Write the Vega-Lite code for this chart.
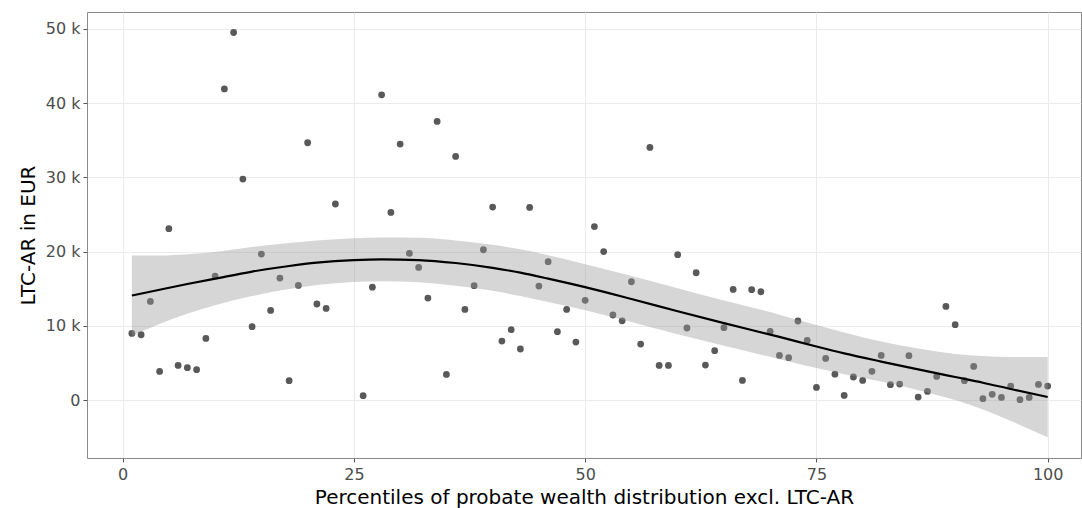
{
  "$schema": "https://vega.github.io/schema/vega-lite/v6.json",
  "autosize": "none",
  "width": 994,
  "height": 446,
  "padding": {"left": 87, "top": 12, "right": 1, "bottom": 50},
  "background": "white",
  "config": {
    "font": "DejaVu Sans",
    "view": {"stroke": "#8a8a8a", "strokeWidth": 1},
    "axis": {
      "domain": false,
      "grid": true,
      "gridColor": "#ebebeb",
      "gridWidth": 1,
      "tickColor": "#555555",
      "tickSize": 4,
      "labelColor": "#4d4d4d",
      "labelFontSize": 16,
      "titleFontSize": 20,
      "titleFontWeight": "normal",
      "titleColor": "#000000",
      "labelFont": "DejaVu Sans",
      "titleFont": "DejaVu Sans"
    }
  },
  "datasets": {
    "pts": [
      {"p": 1, "v": 8970}, {"p": 2, "v": 8790}, {"p": 3, "v": 13280}, {"p": 4, "v": 3850}, {"p": 5, "v": 23070},
      {"p": 6, "v": 4660}, {"p": 7, "v": 4350}, {"p": 8, "v": 4080}, {"p": 9, "v": 8300}, {"p": 10, "v": 16700},
      {"p": 11, "v": 41900}, {"p": 12, "v": 49500}, {"p": 13, "v": 29760}, {"p": 14, "v": 9870}, {"p": 15, "v": 19660},
      {"p": 16, "v": 12070}, {"p": 17, "v": 16430}, {"p": 18, "v": 2600}, {"p": 19, "v": 15440}, {"p": 20, "v": 34650},
      {"p": 21, "v": 12930}, {"p": 22, "v": 12340}, {"p": 23, "v": 26400}, {"p": 26, "v": 580}, {"p": 27, "v": 15200},
      {"p": 28, "v": 41100}, {"p": 29, "v": 25270}, {"p": 30, "v": 34470}, {"p": 31, "v": 19750}, {"p": 32, "v": 17860},
      {"p": 33, "v": 13730}, {"p": 34, "v": 37520}, {"p": 35, "v": 3450}, {"p": 36, "v": 32810}, {"p": 37, "v": 12200},
      {"p": 38, "v": 15400}, {"p": 39, "v": 20240}, {"p": 40, "v": 25990}, {"p": 41, "v": 7940}, {"p": 42, "v": 9470},
      {"p": 43, "v": 6870}, {"p": 44, "v": 25940}, {"p": 45, "v": 15350}, {"p": 46, "v": 18630}, {"p": 47, "v": 9200},
      {"p": 48, "v": 12200}, {"p": 49, "v": 7810}, {"p": 50, "v": 13420}, {"p": 51, "v": 23360}, {"p": 52, "v": 20000},
      {"p": 53, "v": 11450}, {"p": 54, "v": 10660}, {"p": 55, "v": 15930}, {"p": 56, "v": 7540}, {"p": 57, "v": 34020},
      {"p": 58, "v": 4660}, {"p": 59, "v": 4660}, {"p": 60, "v": 19570}, {"p": 61, "v": 9700}, {"p": 62, "v": 17140},
      {"p": 63, "v": 4710}, {"p": 64, "v": 6640}, {"p": 65, "v": 9740}, {"p": 66, "v": 14900}, {"p": 67, "v": 2640},
      {"p": 68, "v": 14860}, {"p": 69, "v": 14580}, {"p": 70, "v": 9240}, {"p": 71, "v": 6010}, {"p": 72, "v": 5700},
      {"p": 73, "v": 10640}, {"p": 74, "v": 8030}, {"p": 75, "v": 1700}, {"p": 76, "v": 5600}, {"p": 77, "v": 3480},
      {"p": 78, "v": 620}, {"p": 79, "v": 3100}, {"p": 80, "v": 2640}, {"p": 81, "v": 3860}, {"p": 82, "v": 6010},
      {"p": 83, "v": 2060}, {"p": 84, "v": 2150}, {"p": 85, "v": 5970}, {"p": 86, "v": 400}, {"p": 87, "v": 1160},
      {"p": 88, "v": 3180}, {"p": 89, "v": 12600}, {"p": 90, "v": 10140}, {"p": 91, "v": 2600}, {"p": 92, "v": 4530},
      {"p": 93, "v": 180}, {"p": 94, "v": 760}, {"p": 95, "v": 350}, {"p": 96, "v": 1880}, {"p": 97, "v": 50},
      {"p": 98, "v": 350}, {"p": 99, "v": 2100}, {"p": 100, "v": 1880}
    ],
    "fit": [
      {"p": 1, "fit": 14070, "lo": 8670, "hi": 19470},
      {"p": 4, "fit": 14850, "lo": 10250, "hi": 19450},
      {"p": 7, "fit": 15620, "lo": 11620, "hi": 19620},
      {"p": 10, "fit": 16350, "lo": 12750, "hi": 19950},
      {"p": 14, "fit": 17300, "lo": 14000, "hi": 20600},
      {"p": 18, "fit": 18050, "lo": 14950, "hi": 21150},
      {"p": 21, "fit": 18500, "lo": 15500, "hi": 21500},
      {"p": 25, "fit": 18850, "lo": 15900, "hi": 21800},
      {"p": 28, "fit": 18950, "lo": 16000, "hi": 21900},
      {"p": 32, "fit": 18850, "lo": 15850, "hi": 21850},
      {"p": 36, "fit": 18450, "lo": 15400, "hi": 21500},
      {"p": 40, "fit": 17800, "lo": 14700, "hi": 20900},
      {"p": 43, "fit": 17150, "lo": 14000, "hi": 20300},
      {"p": 46, "fit": 16350, "lo": 13200, "hi": 19500},
      {"p": 50, "fit": 15200, "lo": 12100, "hi": 18300},
      {"p": 55, "fit": 13600, "lo": 10500, "hi": 16700},
      {"p": 60, "fit": 11950, "lo": 8850, "hi": 15050},
      {"p": 65, "fit": 10350, "lo": 7300, "hi": 13400},
      {"p": 71, "fit": 8500, "lo": 5500, "hi": 11500},
      {"p": 75, "fit": 7200, "lo": 4300, "hi": 10100},
      {"p": 78, "fit": 6280, "lo": 3480, "hi": 9080},
      {"p": 82, "fit": 5180, "lo": 2480, "hi": 7880},
      {"p": 86, "fit": 4130, "lo": 1330, "hi": 6930},
      {"p": 90, "fit": 3100, "lo": 0, "hi": 6200},
      {"p": 93, "fit": 2330, "lo": -1270, "hi": 5930},
      {"p": 96, "fit": 1480, "lo": -2820, "hi": 5780},
      {"p": 100, "fit": 400, "lo": -5000, "hi": 5800}
    ]
  },
  "layer": [
    {
      "data": {"name": "pts"},
      "mark": {"type": "circle", "size": 46, "color": "#595959", "opacity": 1},
      "encoding": {
        "x": {
          "field": "p", "type": "quantitative",
          "scale": {"domain": [-3.85, 103.6], "nice": false, "zero": false},
          "axis": {
            "values": [0, 25, 50, 75, 100],
            "title": "Percentiles of probate wealth distribution excl. LTC-AR",
            "labelPadding": 4,
            "titlePadding": 5
          }
        },
        "y": {
          "field": "v", "type": "quantitative",
          "scale": {"domain": [-7810, 52260], "nice": false, "zero": false},
          "axis": {
            "values": [0, 10000, 20000, 30000, 40000, 50000],
            "labelExpr": "datum.value == 0 ? '0' : (datum.value / 1000) + ' k'",
            "title": "LTC-AR in EUR",
            "labelPadding": 3,
            "titlePadding": 7
          }
        }
      }
    },
    {
      "data": {"name": "fit"},
      "mark": {"type": "area", "color": "#999999", "opacity": 0.4, "interpolate": "monotone"},
      "encoding": {
        "x": {"field": "p", "type": "quantitative"},
        "y": {"field": "hi", "type": "quantitative"},
        "y2": {"field": "lo"}
      }
    },
    {
      "data": {"name": "fit"},
      "mark": {"type": "line", "color": "#000000", "strokeWidth": 2.2, "interpolate": "monotone"},
      "encoding": {
        "x": {"field": "p", "type": "quantitative"},
        "y": {"field": "fit", "type": "quantitative"}
      }
    }
  ]
}
